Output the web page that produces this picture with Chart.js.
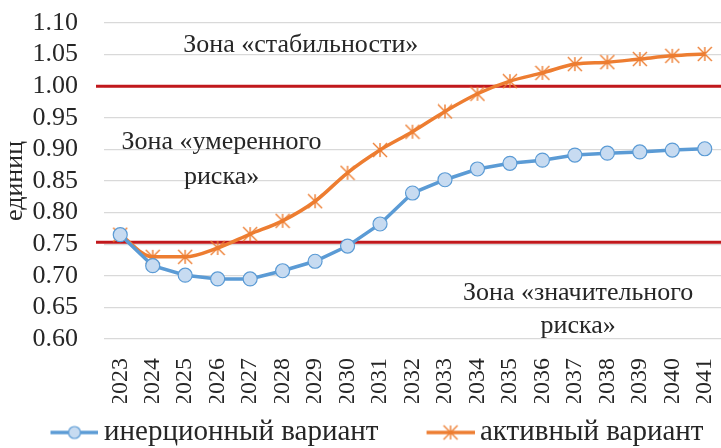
<!DOCTYPE html>
<html lang="ru">
<head>
<meta charset="utf-8">
<script src="https://cdn.jsdelivr.net/npm/chart.js@4"></script>
<style>
  html, body { margin: 0; padding: 0; background: #fff; overflow: hidden; }
  #wrap { width: 721px; height: 448px; }
</style>
</head>
<body>
<div id="wrap"><canvas id="grafico"></canvas></div>
<script>
// dados
const anos = ['2023', '2024', '2025', '2026', '2027', '2028', '2029', '2030', '2031', '2032',
  '2033', '2034', '2035', '2036', '2037', '2038', '2039', '2040', '2041'];
const inercionnyj = [0.765, 0.716, 0.701, 0.695, 0.695, 0.708, 0.723, 0.747, 0.782, 0.831,
  0.852, 0.869, 0.878, 0.883, 0.891, 0.894, 0.896, 0.899, 0.901];
const aktivnyj = [0.765, 0.730, 0.730, 0.744, 0.766, 0.787, 0.818, 0.863, 0.899, 0.928,
  0.960, 0.988, 1.008, 1.021, 1.035, 1.038, 1.043, 1.048, 1.051];
const porogi = [1.00, 0.753];
const yTicks = [0.60, 0.65, 0.70, 0.75, 0.80, 0.85, 0.90, 0.95, 1.00, 1.05, 1.10];

const FONTE = '"Liberation Serif", "Times New Roman", serif';
const AZUL = '#5b9bd5';
const AZUL_CLARO = '#c7dbf1';
const LARANJA = '#ed7d31';
const VERMELHO = '#c1181c';
const TEXTO = '#262626';

// Marcador estrela (asterisco estilo Excel)
function desenharEstrela(g, cx, cy, r) {
  g.strokeStyle = LARANJA;
  g.lineWidth = 1.4;
  g.beginPath();
  g.moveTo(cx, cy - r); g.lineTo(cx, cy + r);
  g.moveTo(cx - r, cy - r); g.lineTo(cx + r, cy + r);
  g.moveTo(cx - r, cy + r); g.lineTo(cx + r, cy - r);
  g.stroke();
}

function criarEstrela() {
  const c = document.createElement('canvas');
  c.width = 16; c.height = 16;
  desenharEstrela(c.getContext('2d'), 8, 8, 7);
  return c;
}

// Ícones da legenda: linha com marcador no meio (parte esquerda vazia = espaço entre itens)
function criarIconeLegenda(tipo) {
  const c = document.createElement('canvas');
  c.width = 90; c.height = 18;
  const g = c.getContext('2d');
  g.lineWidth = 3.5;
  g.strokeStyle = tipo === 'circulo' ? AZUL : LARANJA;
  g.beginPath();
  g.moveTo(42, 9); g.lineTo(90, 9);
  g.stroke();
  if (tipo === 'circulo') {
    g.beginPath();
    g.arc(66, 9, 6, 0, Math.PI * 2);
    g.fillStyle = AZUL_CLARO;
    g.fill();
    g.lineWidth = 1.2;
    g.strokeStyle = AZUL;
    g.stroke();
  } else {
    desenharEstrela(g, 66, 9, 7);
  }
  return c;
}

const estrela = criarEstrela();
const iconeAzul = criarIconeLegenda('circulo');
const iconeLaranja = criarIconeLegenda('estrela');

// Linhas de limiar e textos das zonas
const zonasPlugin = {
  id: 'zonas',
  beforeDatasetsDraw(chart) {
    const { ctx, chartArea, scales } = chart;
    ctx.save();
    ctx.strokeStyle = VERMELHO;
    ctx.lineWidth = 3;
    porogi.forEach(v => {
      const y = scales.y.getPixelForValue(v);
      ctx.beginPath();
      ctx.moveTo(chartArea.left - 8, y);
      ctx.lineTo(chartArea.right, y);
      ctx.stroke();
    });

    const textos = [
      { t: 'Зона «стабильности»', x: 5.56, y: 1.065 },
      { t: 'Зона «умеренного', x: 3.12, y: 0.912 },
      { t: 'риска»', x: 3.12, y: 0.856 },
      { t: 'Зона «значительного', x: 14.1, y: 0.673 },
      { t: 'риска»', x: 14.1, y: 0.621 }
    ];
    ctx.fillStyle = TEXTO;
    ctx.font = '26px ' + FONTE;
    ctx.textAlign = 'center';
    ctx.textBaseline = 'middle';
    textos.forEach(o => {
      ctx.fillText(o.t, scales.x.getPixelForValue(o.x), scales.y.getPixelForValue(o.y));
    });
    ctx.restore();
  }
};

const ctx = document.getElementById('grafico').getContext('2d');

new Chart(ctx, {
  type: 'line',
  data: {
    labels: anos,
    datasets: [
      {
        label: 'инерционный вариант',
        data: inercionnyj,
        borderColor: AZUL,
        borderWidth: 3.5,
        pointStyle: 'circle',
        pointRadius: 7,
        pointBackgroundColor: AZUL_CLARO,
        pointBorderColor: AZUL,
        pointBorderWidth: 1.2,
        tension: 0,
        legendIcon: iconeAzul
      },
      {
        label: 'активный вариант',
        data: aktivnyj,
        borderColor: LARANJA,
        borderWidth: 3.5,
        pointStyle: estrela,
        pointRadius: 7,
        cubicInterpolationMode: 'monotone',
        legendIcon: iconeLaranja
      }
    ]
  },
  options: {
    responsive: true,
    maintainAspectRatio: false,
    animation: false,
    layout: { autoPadding: false, padding: { top: 0, right: 0, left: 0, bottom: -9 } },
    plugins: {
      legend: {
        position: 'bottom',
        labels: {
          usePointStyle: true,
          pointStyleWidth: 72,
          padding: 15,
          color: TEXTO,
          font: { family: FONTE, size: 29 },
          generateLabels(chart) {
            return chart.data.datasets.map((ds, i) => ({
              text: ds.label,
              pointStyle: ds.legendIcon,
              fillStyle: 'transparent',
              strokeStyle: 'transparent',
              lineWidth: 0,
              fontColor: TEXTO,
              datasetIndex: i,
              hidden: false
            }));
          }
        }
      },
      tooltip: { enabled: false }
    },
    scales: {
      x: {
        offset: true,
        grid: { display: false },
        border: { display: false },
        ticks: {
          autoSkip: false,
          minRotation: 90,
          maxRotation: 90,
          padding: 11,
          color: TEXTO,
          font: { family: FONTE, size: 24 }
        },
        afterFit(axis) {
          axis.paddingLeft = 0;
          axis.paddingRight = 0;
          axis.height = 64;
        }
      },
      y: {
        min: 0.6,
        max: 1.1,
        afterBuildTicks(axis) {
          axis.ticks = yTicks.map(v => ({ value: v }));
        },
        afterFit(axis) {
          axis.paddingTop = 23;
          axis.paddingBottom = 0;
          axis.width = 104;
        },
        grid: { color: '#d9d9d9', lineWidth: 1.3, drawTicks: false },
        border: { display: false },
        ticks: {
          autoSkip: false,
          padding: 26,
          color: TEXTO,
          font: { family: FONTE, size: 26 },
          callback: v => v.toFixed(2)
        },
        title: {
          display: true,
          text: 'единиц',
          color: TEXTO,
          padding: 0,
          font: { family: FONTE, size: 26 }
        }
      }
    }
  },
  plugins: [zonasPlugin]
});
</script>
</body>
</html>
